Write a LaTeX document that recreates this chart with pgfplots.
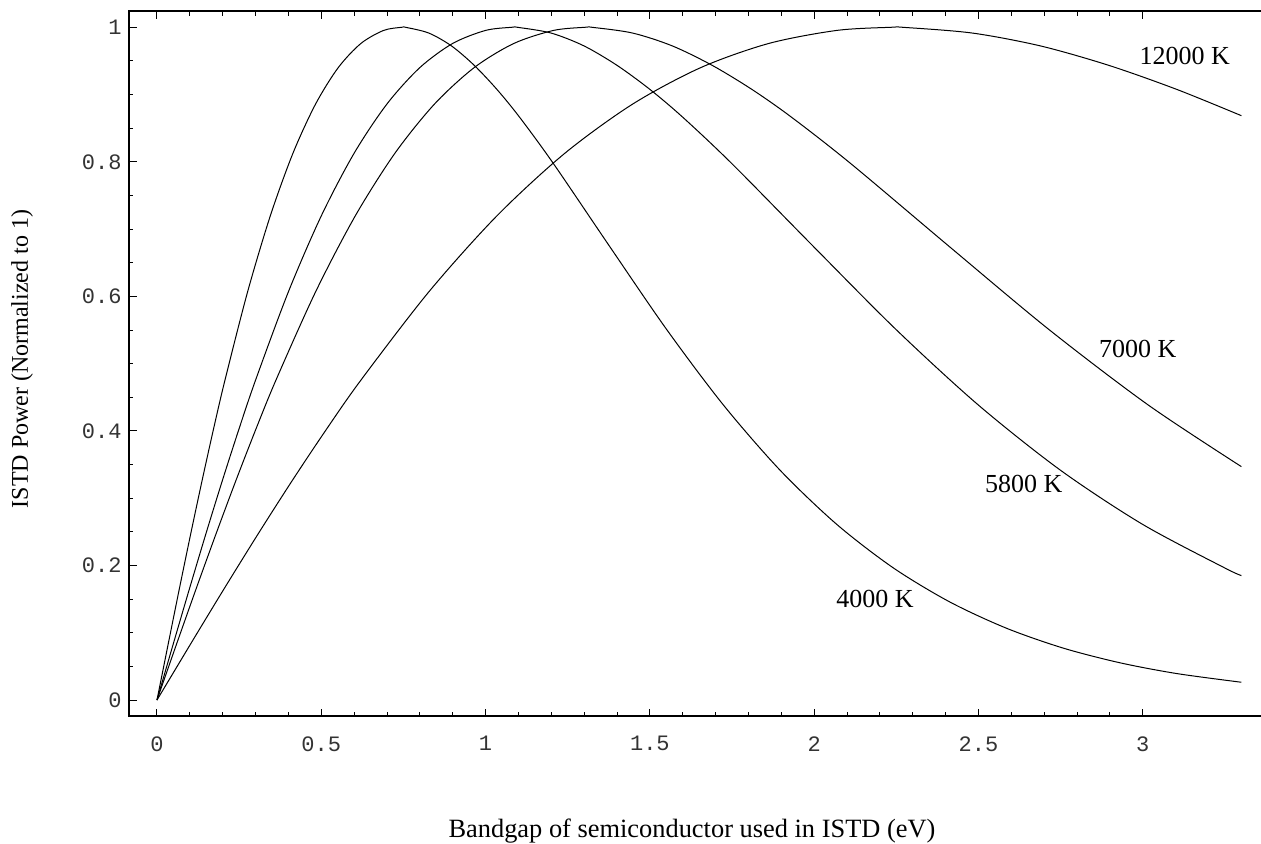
\documentclass[border=0pt]{standalone}
\usepackage{fontspec}
\setmainfont{Liberation Serif}
\newfontfamily\tickfont{Liberation Mono}
\usepackage{pgfplots}
\pgfplotsset{compat=1.18}
\begin{document}
\begin{tikzpicture}
\begin{axis}[name=ax, scale only axis, width=570.15pt, height=352.5pt,
  xmin=-0.0852, xmax=3.385, ymin=-0.0238, ymax=1.0242,
  xtick={0,0.5,1,1.5,2,2.5,3}, ytick={0,0.2,0.4,0.6,0.8,1},
  minor x tick num=4, minor y tick num=3,
  tick align=inside, major tick length=3.75pt, minor tick length=2.25pt,
  tick style={black, line width=0.5pt},
  axis line style={line width=0.6pt},
  /pgf/number format/assume math mode=true,
  ticklabel style={font=\tickfont\fontsize{11}{11}\selectfont, text=black!80},
  xticklabel style={anchor=north, inner sep=0pt, yshift=-10pt},
  yticklabel style={anchor=east, inner sep=0pt, xshift=-3.5pt},
  xlabel={Bandgap of semiconductor used in ISTD (eV)},
  ylabel={ISTD Power (Normalized to 1)},
  xlabel style={font=\fontsize{13.2}{15}\selectfont, at={(axis description cs:0.4937,-0.1723)}, anchor=base},
  ylabel style={font=\fontsize{12}{14}\selectfont, at={(axis description cs:-0.0886,0.5064)}, anchor=base},
]
% 4000 K
\addplot[black, line width=0.5pt, smooth] coordinates {
(0,0) (0.0345,0.0842) (0.0689,0.1674) (0.1034,0.2488) (0.1379,0.3277) (0.1723,0.4034)
(0.2068,0.4754) (0.2757,0.6067) (0.3447,0.7195) (0.4136,0.8126) (0.4826,0.8859)
(0.5515,0.9400) (0.6204,0.9759) (0.6894,0.9953) (0.7445,1.0) (0.7583,0.9998)
(0.8272,0.9914) (0.8962,0.9723) (0.9651,0.9436) (1.0340,0.9079) (1.1030,0.8666)
(1.2064,0.7974) (1.3787,0.6734) (1.5511,0.5507) (1.7234,0.4387) (1.8957,0.3418)
(2.0681,0.2613) (2.2404,0.1965) (2.4128,0.1457) (2.5851,0.1067) (2.7574,0.0772)
(2.9298,0.0554) (3.1021,0.0394) (3.3,0.0264)};
% 5800 K
\addplot[black, line width=0.5pt, smooth] coordinates {
(0,0) (0.0500,0.0842) (0.1000,0.1674) (0.1499,0.2488) (0.1999,0.3277) (0.2499,0.4034)
(0.2999,0.4754) (0.3998,0.6067) (0.4998,0.7195) (0.5997,0.8126) (0.6997,0.8859)
(0.7997,0.9400) (0.8996,0.9759) (0.9996,0.9953) (1.0795,1.0) (1.0995,0.9998)
(1.1995,0.9914) (1.2995,0.9723) (1.3994,0.9436) (1.4994,0.9079) (1.5993,0.8666)
(1.7493,0.7974) (1.9992,0.6734) (2.2491,0.5507) (2.4990,0.4387) (2.7488,0.3418)
(2.9987,0.2613) (3.2486,0.1965) (3.3,0.1850)};
% 7000 K
\addplot[black, line width=0.5pt, smooth] coordinates {
(0,0) (0.0603,0.0842) (0.1206,0.1674) (0.1810,0.2488) (0.2413,0.3277) (0.3016,0.4034)
(0.3619,0.4754) (0.4826,0.6067) (0.6032,0.7195) (0.7238,0.8126) (0.8445,0.8859)
(0.9651,0.9400) (1.0857,0.9759) (1.2064,0.9953) (1.3029,1.0) (1.3270,0.9998)
(1.4477,0.9914) (1.5683,0.9723) (1.6889,0.9436) (1.8096,0.9079) (1.9302,0.8666)
(2.1112,0.7974) (2.4128,0.6734) (2.7144,0.5507) (3.0160,0.4387) (3.3,0.3469)};
% 12000 K
\addplot[black, line width=0.5pt, smooth] coordinates {
(0,0) (0.1034,0.0842) (0.2068,0.1674) (0.3102,0.2488) (0.4136,0.3277) (0.5170,0.4034)
(0.6204,0.4754) (0.8272,0.6067) (1.0340,0.7195) (1.2408,0.8126) (1.4477,0.8859)
(1.6545,0.9400) (1.8613,0.9759) (2.0681,0.9953) (2.2335,1.0) (2.2749,0.9998)
(2.4817,0.9914) (2.6885,0.9723) (2.8953,0.9436) (3.1021,0.9079) (3.3,0.8686)};
\node[font=\fontsize{13}{15}\selectfont, anchor=base] at (axis cs:3.128,0.9454) {12000 K};
\node[font=\fontsize{13}{15}\selectfont, anchor=base] at (axis cs:2.985,0.5089) {7000 K};
\node[font=\fontsize{13}{15}\selectfont, anchor=base] at (axis cs:2.638,0.3088) {5800 K};
\node[font=\fontsize{13}{15}\selectfont, anchor=base] at (axis cs:2.185,0.1378) {4000 K};
\end{axis}
\pgfresetboundingbox
\path (ax.south west) ++(-64.5pt,-63.5pt) rectangle ++(630.5pt,421.5pt);
\end{tikzpicture}
\end{document}
